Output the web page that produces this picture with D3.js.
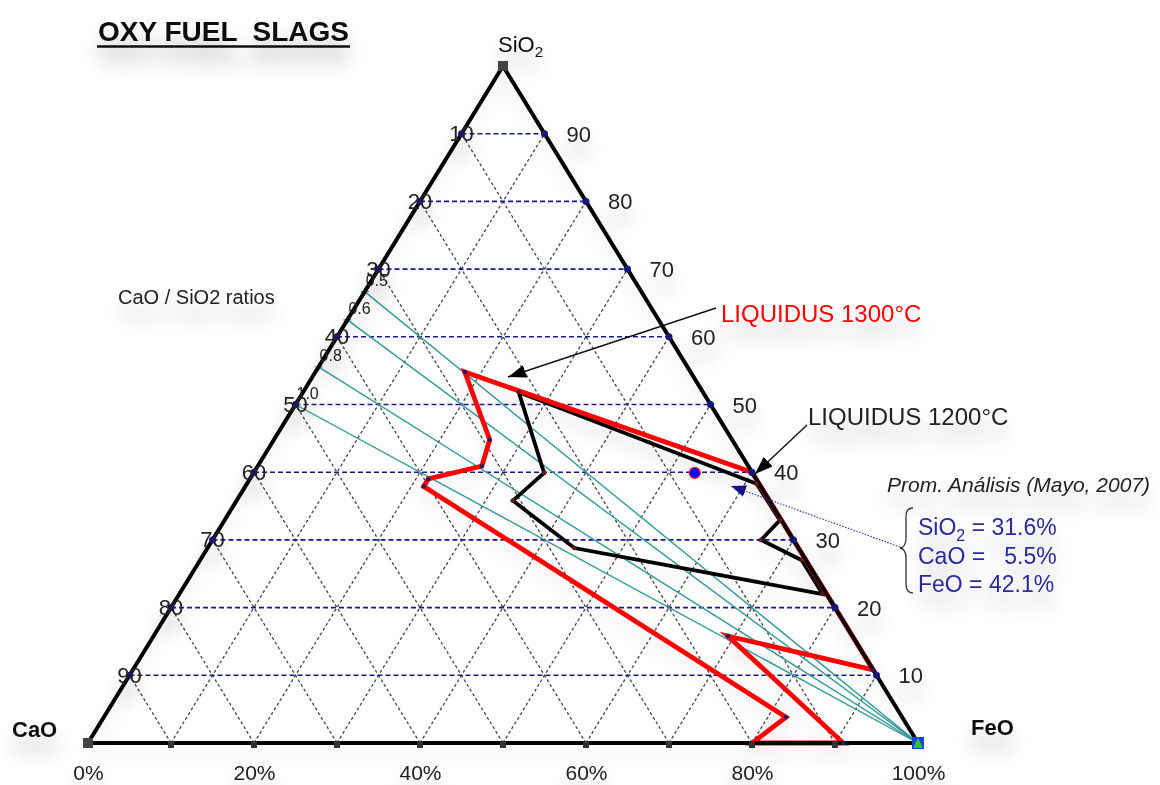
<!DOCTYPE html>
<html>
<head>
<meta charset="utf-8">
<script src="https://cdn.jsdelivr.net/npm/d3@7"></script>
<style>
  body { margin: 0; background: #fff; }
  text { font-family: "Liberation Sans", Arial, sans-serif; }
</style>
</head>
<body>
<script>
var W = 1160, H = 785;

// compositions are [SiO2, CaO, FeO] in %
var liquidus1300 = [
  [54.8, 27.2, 18.0], [44.8, 29.2, 26.0], [40.9, 32.1, 27.0], [39.0, 39.5, 21.5],
  [37.9, 40.6, 21.5], [3.8, 14.0, 82.2], [0, 20.0, 80.0], [0, 9.0, 91.0],
  [15.8, 15.0, 69.2], [10.8, 0, 89.2], [40.0, 0, 60.0]
];
var liquidus1200 = [
  [51.8, 22.2, 26.0], [38.3, 0.3, 61.4], [32.9, 0.2, 66.9], [30.0, 3.9, 66.1],
  [27.0, 0.5, 72.5], [22.0, 0.5, 77.5], [28.8, 27.0, 44.2], [35.8, 30.9, 33.3],
  [39.9, 25.1, 35.0]
];
var ratios = [0.5, 0.6, 0.8, 1.0];               // CaO / SiO2
var ratioLabels = ["0.5", "0.6", "0.8", "1.0"];
var analysis = { SiO2: 31.6, CaO: 5.5, FeO: 42.1 }; // Prom. Análisis (Mayo, 2007)
var gridLevels = [10, 20, 30, 40, 50, 60, 70, 80, 90];
var bottomTicks = [0, 20, 40, 60, 80, 100];

var x = d3.scaleLinear().domain([0, 100]).range([88, 918]); // FeO + SiO2/2
var y = d3.scaleLinear().domain([0, 100]).range([743, 66]); // SiO2

function px(c) { // c = [SiO2, CaO, FeO]
  var s = c[0] + c[1] + c[2];
  var si = c[0] / s * 100, fe = c[2] / s * 100;
  return [x(fe + si / 2), y(si)];
}

var svg = d3.select("body").append("svg").attr("width", W).attr("height", H);
var defs = svg.append("defs");

function shadow(id, blur, dy, alpha) {
  var f = defs.append("filter").attr("id", id)
    .attr("x", "-20%").attr("y", "-60%").attr("width", "140%").attr("height", "320%");
  f.append("feGaussianBlur").attr("in", "SourceAlpha").attr("stdDeviation", blur);
  f.append("feOffset").attr("dy", dy).attr("result", "off");
  f.append("feComponentTransfer").append("feFuncA").attr("type", "linear").attr("slope", alpha);
  var fm = f.append("feMerge");
  fm.append("feMergeNode");
  fm.append("feMergeNode").attr("in", "SourceGraphic");
}
shadow("shadow", 10, 15, 0.3);
shadow("shadowSoft", 9, 10, 0.12);

function marker(id, color, len, wid) {
  defs.append("marker").attr("id", id)
    .attr("viewBox", "0 0 " + len + " " + wid)
    .attr("refX", len).attr("refY", wid / 2)
    .attr("markerWidth", len).attr("markerHeight", wid)
    .attr("markerUnits", "userSpaceOnUse")
    .attr("orient", "auto")
    .append("path").attr("d", "M0,0L" + len + "," + wid / 2 + "L0," + wid + "Z").attr("fill", color);
}
marker("arrBlack", "#000", 18, 13);
marker("arrBlue", "#10108a", 15, 12);

var line = d3.line();

// gray dashed grid (constant CaO and constant FeO)
var grid = svg.append("g");
gridLevels.forEach(function(k) {
  grid.append("path").attr("d", line([px([0, 100 - k, k]), px([100 - k, 0, k])]));
  grid.append("path").attr("d", line([px([0, k, 100 - k]), px([100 - k, k, 0])]));
});
grid.selectAll("path").attr("fill", "none").attr("stroke", "#444")
  .attr("stroke-width", 1.3).attr("stroke-dasharray", "3,2.5");

// blue dashed SiO2 lines
svg.append("g").selectAll("path").data(gridLevels).enter().append("path")
  .attr("d", function(k) { return line([px([k, 100 - k, 0]), px([k, 0, 100 - k])]); })
  .attr("stroke", "#1a1a90").attr("stroke-width", 1.6).attr("stroke-dasharray", "5,3");

// CaO/SiO2 ratio lines
var rg = svg.append("g");
rg.selectAll("path").data(ratios).enter().append("path")
  .attr("d", function(r) { return line([px([100, 100 * r, 0]), px([0, 0, 100])]); })
  .attr("stroke", "#2f9a98").attr("stroke-width", 1.4);
rg.selectAll("path.cross").data(ratios).enter().append("path").attr("class", "cross")
  .attr("d", function(r) { var p = px([100, 100 * r, 0]); return "M" + (p[0] - 4) + "," + p[1] + "h8M" + p[0] + "," + (p[1] - 4) + "v8"; })
  .attr("stroke", "#2f9a98").attr("stroke-width", 1.4);

// liquidus curves and triangle
var C = svg.append("g").attr("filter", "url(#shadowSoft)");
C.append("path").attr("d", line(liquidus1200.map(px)) + "Z")
  .attr("fill", "none").attr("stroke", "#000").attr("stroke-width", 3.8).attr("stroke-linejoin", "miter");
C.append("path").attr("d", line(liquidus1300.map(px)) + "Z")
  .attr("fill", "none").attr("stroke", "#ff0000").attr("stroke-width", 4.8).attr("stroke-linejoin", "miter");
C.append("path").attr("d", line([px([0, 100, 0]), px([100, 0, 0]), px([0, 0, 100])]) + "Z")
  .attr("fill", "none").attr("stroke", "#000").attr("stroke-width", 4).attr("stroke-linejoin", "round");

svg.append("g").selectAll("circle").data(liquidus1200).enter().append("circle")
  .attr("cx", function(d) { return px(d)[0]; }).attr("cy", function(d) { return px(d)[1]; })
  .attr("r", 2.3).attr("fill", "#5a1a1a");
svg.append("g").selectAll("circle").data(liquidus1300).enter().append("circle")
  .attr("cx", function(d) { return px(d)[0]; }).attr("cy", function(d) { return px(d)[1]; })
  .attr("r", 2.3).attr("fill", "#2a1a5a");

// bottom tick squares
svg.append("g").selectAll("rect").data(gridLevels).enter().append("rect")
  .attr("x", function(k) { return x(k) - 3; }).attr("y", y(0) - 2).attr("width", 6).attr("height", 7)
  .attr("fill", "#333");

// edge dots
var dots = svg.append("g");
gridLevels.forEach(function(k) {
  [px([k, 100 - k, 0]), px([k, 0, 100 - k])].forEach(function(p) {
    dots.append("circle").attr("cx", p[0]).attr("cy", p[1]).attr("r", 3.5).attr("fill", "#16167a");
  });
});

// corner markers
var pSi = px([100, 0, 0]), pCa = px([0, 100, 0]), pFe = px([0, 0, 100]);
svg.append("rect").attr("x", pSi[0] - 5).attr("y", pSi[1] - 5).attr("width", 10).attr("height", 10).attr("fill", "#444");
svg.append("rect").attr("x", pCa[0] - 5).attr("y", pCa[1] - 5).attr("width", 10).attr("height", 10).attr("fill", "#444");
svg.append("rect").attr("x", pFe[0] - 6).attr("y", pFe[1] - 6).attr("width", 12).attr("height", 12).attr("fill", "#2040e0");
svg.append("path").attr("d", "M" + pFe[0] + "," + (pFe[1] - 5) + "l5,10h-10Z").attr("fill", "#22cc22");

// analysis point
var pa = px([analysis.SiO2, analysis.CaO, analysis.FeO]);
svg.append("circle").attr("cx", pa[0]).attr("cy", pa[1]).attr("r", 5.5)
  .attr("fill", "#0000ff").attr("stroke", "#ff2020").attr("stroke-width", 1.2);

// text layer
var T = svg.append("g").attr("filter", "url(#shadow)");

// ratio labels
T.selectAll("text.ratio").data(ratios).enter().append("text").attr("class", "ratio")
  .attr("x", function(r) { return px([100, 100 * r, 0])[0] + 1; })
  .attr("y", function(r) { return px([100, 100 * r, 0])[1] - 6; })
  .attr("font-size", 16).attr("fill", "#222")
  .text(function(r, i) { return ratioLabels[i]; });

// side labels
gridLevels.forEach(function(k) {
  var pl = px([k, 100 - k, 0]), pr = px([k, 0, 100 - k]);
  T.append("text").attr("x", pl[0]).attr("y", pl[1] + 7.5).attr("text-anchor", "middle")
    .attr("font-size", 22).attr("fill", "#222").text(100 - k);
  T.append("text").attr("x", pr[0] + 22).attr("y", pr[1] + 8).attr("font-size", 22)
    .attr("fill", "#222").text(k);
});

// bottom axis
var ax = T.append("g").attr("transform", "translate(0," + y(0) + ")")
  .call(d3.axisBottom(x).tickValues(bottomTicks).tickSize(0).tickPadding(22)
    .tickFormat(function(d) { return d + "%"; }));
ax.select(".domain").remove();
ax.selectAll("text").attr("font-size", 21).attr("fill", "#222")
  .attr("font-family", "Liberation Sans, Arial, sans-serif");

// vertex names
var si = T.append("text").attr("x", pSi[0] - 5).attr("y", pSi[1] - 14).attr("font-size", 22).attr("fill", "#111");
si.append("tspan").text("SiO");
si.append("tspan").attr("font-size", 15).attr("dy", 5).text("2");
T.append("text").attr("x", 12).attr("y", 737).attr("font-size", 22).attr("font-weight", "bold").attr("fill", "#111").text("CaO");
T.append("text").attr("x", 971).attr("y", 735).attr("font-size", 22).attr("font-weight", "bold").attr("fill", "#111").text("FeO");

// title
T.append("text").attr("x", 98).attr("y", 41).attr("font-size", 28).attr("font-weight", "bold")
  .attr("fill", "#111").attr("style", "white-space:pre").text("OXY FUEL  SLAGS");
T.append("line").attr("x1", 97).attr("x2", 350).attr("y1", 46.5).attr("y2", 46.5)
  .attr("stroke", "#111").attr("stroke-width", 2.5);

T.append("text").attr("x", 118).attr("y", 304).attr("font-size", 20).attr("fill", "#222").text("CaO / SiO2 ratios");

// liquidus annotations
T.append("text").attr("x", 721).attr("y", 322).attr("font-size", 24).attr("fill", "#ff0000").text("LIQUIDUS 1300°C");
T.append("text").attr("x", 808).attr("y", 425).attr("font-size", 24).attr("fill", "#222").text("LIQUIDUS 1200°C");
svg.append("line").attr("x1", 716).attr("y1", 308).attr("x2", 508).attr("y2", 377)
  .attr("stroke", "#111").attr("stroke-width", 1.4).attr("marker-end", "url(#arrBlack)");
svg.append("line").attr("x1", 807).attr("y1", 425).attr("x2", 755).attr("y2", 474)
  .attr("stroke", "#111").attr("stroke-width", 1.4).attr("marker-end", "url(#arrBlack)");

// analysis annotation
T.append("text").attr("x", 887).attr("y", 492).attr("font-size", 21).attr("font-style", "italic")
  .attr("fill", "#222").text("Prom. Análisis (Mayo, 2007)");
var lines = [
  ["SiO", "2", " = " + analysis.SiO2.toFixed(1) + "%"],
  ["CaO =   ", "", analysis.CaO.toFixed(1) + "%"],
  ["FeO = ", "", analysis.FeO.toFixed(1) + "%"]
];
lines.forEach(function(l, i) {
  var t = T.append("text").attr("x", 918).attr("y", 535 + i * 28.5).attr("font-size", 23)
    .attr("fill", "#2b2b9b").attr("style", "white-space:pre");
  t.append("tspan").text(l[0]);
  if (l[1]) {
    t.append("tspan").attr("font-size", 16).attr("dy", 6).text(l[1]);
    t.append("tspan").attr("dy", -6).text(l[2]);
  } else {
    t.append("tspan").text(l[2]);
  }
});
svg.append("path").attr("d", "M913,508 q-7,0 -7,8 v22 q0,9 -6,10 q6,1 6,10 v26 q0,9 7,9")
  .attr("fill", "none").attr("stroke", "#333").attr("stroke-width", 1.3);
svg.append("line").attr("x1", 900).attr("y1", 547).attr("x2", 731).attr("y2", 486)
  .attr("stroke", "#3a3ab0").attr("stroke-width", 1.2).attr("stroke-dasharray", "1.5,1.5")
  .attr("marker-end", "url(#arrBlue)");
</script>
</body>
</html>
